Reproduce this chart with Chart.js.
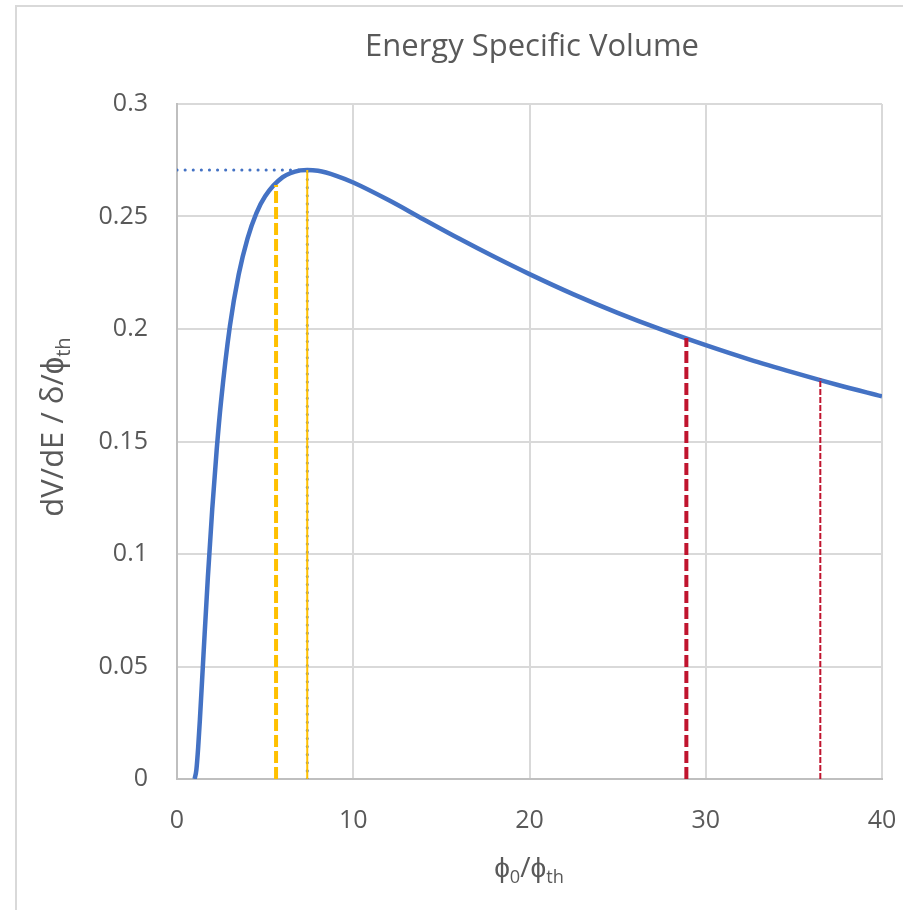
<!DOCTYPE html>
<html>
<head>
<meta charset="utf-8">
<script src="https://cdn.jsdelivr.net/npm/chart.js@4.4.0/dist/chart.umd.min.js"></script>
<style>
  html, body { margin: 0; padding: 0; background: #fff; }
  #wrap { width: 903px; height: 910px; }
</style>
</head>
<body>
<div id="wrap"><canvas id="myChart" width="903" height="910"></canvas></div>
<script>
// curve samples (phi0/phi_th, dV/dE)
var phiRatio = [1, 1.1, 1.2, 1.3, 1.5, 1.75, 2, 2.25, 2.5, 3, 3.5, 4, 4.5, 5, 6, 7, 7.39, 8, 9, 10, 12, 14, 16, 18, 20, 22.5, 25, 27.5, 30, 32.5, 35, 37.5, 40];
var volume = [0, 0.0041, 0.0139, 0.0265, 0.0548, 0.0895, 0.1201, 0.1461, 0.1679, 0.2012, 0.2242, 0.2402, 0.2514, 0.2590, 0.2675, 0.2705, 0.2707, 0.2703, 0.2682, 0.2651, 0.2573, 0.2487, 0.2402, 0.2321, 0.2244, 0.2154, 0.2072, 0.1997, 0.1928, 0.1864, 0.1806, 0.1751, 0.1701];

// vertical markers
var peakX = 7.39, peakY = 0.2707;
var yellowX = 5.62, yellowTop = 0.264;
var redX = 28.9, redTop = 0.196;
var redThinX = 36.5, redThinTop = 0.178;

var xTicks = [0, 10, 20, 30, 40];
var yTicks = [0, 0.05, 0.1, 0.15, 0.2, 0.25, 0.3];
var yTickLabels = ['0', '0.05', '0.1', '0.15', '0.2', '0.25', '0.3'];

var FONT = "'Open Sans', sans-serif";
var TXT = '#595959';

function vline(x, top) { return [{x: x, y: 0}, {x: x, y: top}]; }

var curve = phiRatio.map(function (p, i) { return {x: p, y: volume[i]}; });

// title + axis titles with subscripts
var textPlugin = {
    id: 'texts',
    beforeDraw: function (chart) {
        var c = chart.ctx;
        c.save();
        c.fillStyle = '#fff';
        c.fillRect(0, 0, chart.width, chart.height);
        c.strokeStyle = '#d9d9d9';
        c.lineWidth = 2;
        c.strokeRect(16, 6, 1000, 1000);
        c.restore();
    },
    afterDraw: function (chart) {
        var c = chart.ctx;
        c.save();
        c.fillStyle = TXT;
        c.textBaseline = 'alphabetic';
        c.textAlign = 'center';
        c.font = '31px ' + FONT;
        c.fillText('Energy Specific Volume', 532, 56);

        function rich(parts, cx, cy, size) {
            var w = 0;
            parts.forEach(function (p) {
                c.font = (p[1] ? size * 0.65 : size) + 'px ' + FONT;
                p.w = c.measureText(p[0]).width; w += p.w;
            });
            var x = cx - w / 2;
            c.textAlign = 'left';
            parts.forEach(function (p) {
                c.font = (p[1] ? size * 0.65 : size) + 'px ' + FONT;
                c.fillText(p[0], x, cy + (p[1] ? size * 0.22 : 0));
                x += p.w;
            });
        }
        rich([['ϕ'], ['0', 1], ['/ϕ'], ['th', 1]], 529, 877, 28);
        c.translate(63, 427);
        c.rotate(-Math.PI / 2);
        rich([['dV/dE / δ/ϕ'], ['th', 1]], 0, 0, 31);
        c.restore();
    }
};

var ctx = document.getElementById('myChart').getContext('2d');

var myChart = new Chart(ctx, {
    type: 'scatter',
    data: {
        datasets: [{
            data: vline(yellowX, yellowTop),
            showLine: true, borderColor: '#FFC000', borderWidth: 4, borderDash: [12, 4],
            pointRadius: 0
        }, {
            data: vline(peakX, peakY),
            showLine: true, borderColor: '#FFC000', borderWidth: 2,
            pointRadius: 0
        }, {
            data: vline(peakX, peakY),
            showLine: true, borderColor: '#4472C4', borderWidth: 3, borderDash: [0.1, 8], borderCapStyle: 'round',
            pointRadius: 0
        }, {
            data: [{x: 0, y: peakY}, {x: peakX, y: peakY}],
            showLine: true, borderColor: '#4472C4', borderWidth: 3, borderDash: [0.1, 8], borderCapStyle: 'round',
            pointRadius: 0
        }, {
            data: vline(redX, redTop),
            showLine: true, borderColor: '#C0142E', borderWidth: 4, borderDash: [12, 4],
            pointRadius: 0
        }, {
            data: vline(redThinX, redThinTop),
            showLine: true, borderColor: '#C0142E', borderWidth: 2, borderDash: [6, 2],
            pointRadius: 0
        }, {
            data: curve,
            showLine: true, borderColor: '#4472C4', borderWidth: 4.5, cubicInterpolationMode: 'monotone',
            pointRadius: 0
        }]
    },
    options: {
        responsive: false,
        animation: false,
        events: [],
        layout: { padding: { left: 0, right: 21, top: 104, bottom: 0 } },
        plugins: { legend: { display: false }, tooltip: { enabled: false } },
        scales: {
            x: {
                type: 'linear', min: 0, max: 40,
                afterFit: function (s) { s.height = 131; s.paddingLeft = 0; s.paddingRight = 0; },
                afterBuildTicks: function (s) { s.ticks = xTicks.map(function (v) { return {value: v}; }); },
                grid: { color: '#d9d9d9', lineWidth: 2, drawTicks: false },
                border: { color: '#bfbfbf', width: 2 },
                ticks: { padding: 27, color: TXT, font: { family: FONT, size: 25 } }
            },
            y: {
                type: 'linear', min: 0, max: 0.3,
                afterFit: function (s) { s.width = 177; s.paddingTop = 0; s.paddingBottom = 0; },
                afterBuildTicks: function (s) { s.ticks = yTicks.map(function (v) { return {value: v}; }); },
                grid: { color: '#d9d9d9', lineWidth: 2, drawTicks: false },
                border: { color: '#bfbfbf', width: 2 },
                ticks: {
                    padding: 29, color: TXT, font: { family: FONT, size: 25 },
                    callback: function (v, i) { return yTickLabels[i]; }
                }
            }
        }
    },
    plugins: [textPlugin]
});
</script>
</body>
</html>
